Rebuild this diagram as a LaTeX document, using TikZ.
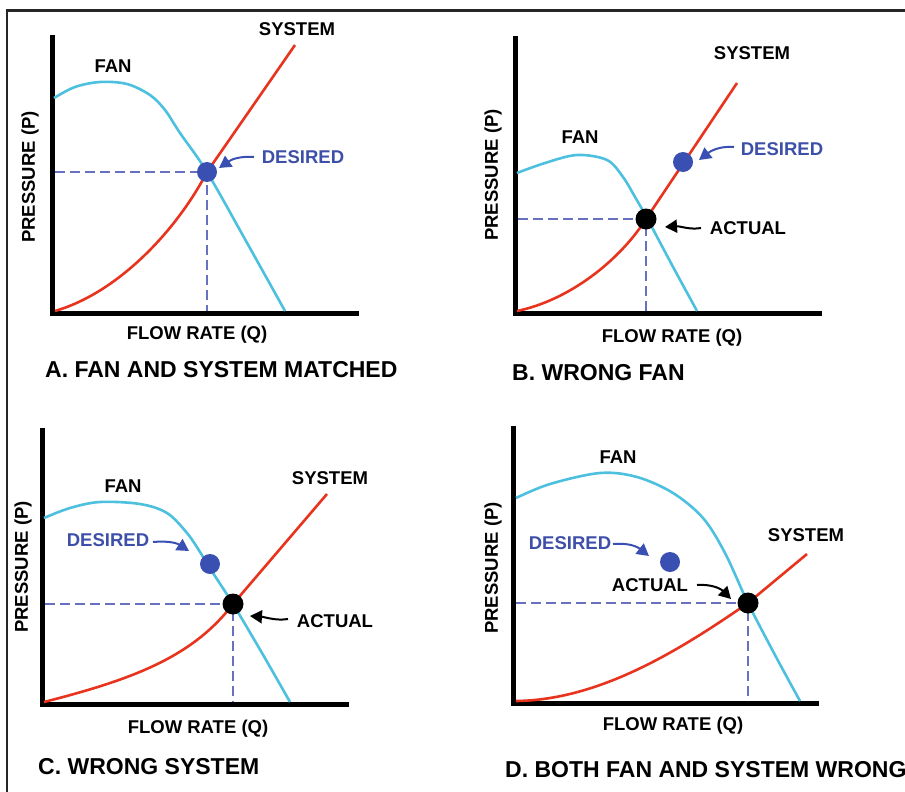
\documentclass[tikz,border=0pt]{standalone}
\usepackage{fontspec}
\setmainfont{Liberation Sans}
\usetikzlibrary{arrows.meta}
\definecolor{fanc}{HTML}{4CC0DE}
\definecolor{sysc}{HTML}{E8341E}
\definecolor{dotb}{HTML}{3A4FB2}
\definecolor{dashc}{HTML}{6870C0}
\definecolor{txtb}{HTML}{3D4FA8}
\begin{document}
\begin{tikzpicture}[x=1pt,y=-1pt,
  axis/.style={line width=5pt, line join=miter},
  fan/.style={fanc, line width=2.6pt},
  sys/.style={sysc, line width=2.6pt},
  guide/.style={dashc, line width=2pt, dash pattern=on 10pt off 5pt},
  lbl/.style={font=\fontsize{18.5}{22}\selectfont\bfseries, inner sep=0},
  blbl/.style={lbl, text=txtb},
  ylbl/.style={lbl, rotate=90},
  ttl/.style={font=\fontsize{23}{27}\selectfont\bfseries, inner sep=0, anchor=west},
  bdot/.style={circle, fill=dotb, minimum size=20pt, inner sep=0},
  kdot/.style={circle, fill=black, minimum size=21pt, inner sep=0},
  barr/.style={dotb, line width=2pt, -{Triangle[length=12pt,width=13pt]}},
  karr/.style={black, line width=2pt, -{Triangle[length=12pt,width=13pt]}},
  frame/.style={line width=2.5pt, black!85}
]
\useasboundingbox (0,0) rectangle (905,792);
% frame
\coordinate (fBL) at (7,800);
\coordinate (fTL) at (7,10.5);
\coordinate (fTR) at (910,10.5);
\draw[frame] (fBL) -- (fTL) -- (fTR);

% ================= Panel A =================
\coordinate (Atop) at (52,35); \coordinate (Aorg) at (52,313); \coordinate (Aend) at (359,313);
\draw[axis] (Atop) -- (Aorg) -- (Aend);
\coordinate (pA) at (207,172);
\draw[fan] plot[smooth, tension=0.55] coordinates {(54,98) (75,87) (100,82) (127,84) (150,95) (165,110) (180,133) (207,172) (246,241) (285,311)};
\coordinate (sA0) at (55,311); \coordinate (sA1) at (295,45);
\draw[sys] (sA0) .. controls (120,292) and (178,228) .. (pA) -- (sA1);
\coordinate (gA1) at (55,172); \coordinate (gA2) at (207,311);
\draw[guide] (gA1) -- (pA) -- (gA2);
\node[bdot] (dA) at (pA) {};
\node[lbl] (sysA) at (297,29) {SYSTEM};
\node[lbl] (fanA) at (113,66) {FAN};
\node[blbl] (desA) at (303,157) {DESIRED};
\node[ylbl] (prA) at (30,177) {PRESSURE (P)};
\node[lbl] (flA) at (197,335) {FLOW RATE (Q)};
\node[ttl] (tA) at (45,370) {A. FAN AND SYSTEM MATCHED};
\coordinate (aAs) at (254,157); \coordinate (aAt) at (219,168);
\draw[barr] (aAs) .. controls (241,156) and (232,159) .. (aAt);

% ================= Panel B =================
\coordinate (Btop) at (515,36); \coordinate (Borg) at (515,313); \coordinate (Bend) at (822,313);
\draw[axis] (Btop) -- (Borg) -- (Bend);
\coordinate (pBd) at (683,162); \coordinate (pBa) at (646,219);
\draw[fan] plot[smooth, tension=0.55] coordinates {(517,173) (545,163) (577,155) (607,160) (623,177) (635,197) (647,218) (672,265) (697,311)};
\coordinate (sB0) at (517,311); \coordinate (sB1) at (737,83);
\draw[sys] (sB0) .. controls (570,300) and (620,260) .. (pBa) -- (sB1);
\coordinate (gB1) at (518,219); \coordinate (gB2) at (646,311);
\draw[guide] (gB1) -- (pBa) -- (gB2);
\node[bdot] (dB) at (pBd) {};
\node[kdot] (kB) at (pBa) {};
\node[lbl] (sysB) at (752,53) {SYSTEM};
\node[lbl] (fanB) at (580,137) {FAN};
\node[blbl] (desB) at (782,149) {DESIRED};
\node[lbl] (actB) at (748,228) {ACTUAL};
\node[ylbl] (prB) at (493,175) {PRESSURE (P)};
\node[lbl] (flB) at (672,338) {FLOW RATE (Q)};
\node[ttl] (tB) at (512,373) {B. WRONG FAN};
\coordinate (aBs) at (734,147); \coordinate (aBt) at (699,160);
\draw[barr] (aBs) .. controls (721,146) and (712,150) .. (aBt);
\coordinate (aBs2) at (701,228); \coordinate (aBt2) at (665,227);
\draw[karr] (aBs2) .. controls (690,230) and (680,226) .. (aBt2);

% ================= Panel C =================
\coordinate (Ctop) at (42,428); \coordinate (Corg) at (42,704); \coordinate (Cend) at (349,704);
\draw[axis] (Ctop) -- (Corg) -- (Cend);
\coordinate (pCd) at (210,564); \coordinate (pCa) at (233,604);
\draw[fan] plot[smooth, tension=0.55] coordinates {(44,518) (70,508) (100,502) (140,504) (167,513) (187,533) (200,552) (213,573) (233,604) (262,653) (290,702)};
\coordinate (sC0) at (44,702); \coordinate (sC1) at (327,494);
\draw[sys] (sC0) .. controls (130,680) and (192,658) .. (pCa) -- (sC1);
\coordinate (gC1) at (45,604); \coordinate (gC2) at (233,702);
\draw[guide] (gC1) -- (pCa) -- (gC2);
\node[bdot] (dC) at (pCd) {};
\node[kdot] (kC) at (pCa) {};
\node[lbl] (sysC) at (330,478) {SYSTEM};
\node[lbl] (fanC) at (123,486) {FAN};
\node[blbl] (desC) at (108,540) {DESIRED};
\node[lbl] (actC) at (335,621) {ACTUAL};
\node[ylbl] (prC) at (23,567) {PRESSURE (P)};
\node[lbl] (flC) at (198,729) {FLOW RATE (Q)};
\node[ttl] (tC) at (38,767) {C. WRONG SYSTEM};
\coordinate (aCs) at (153,542); \coordinate (aCt) at (189,551);
\draw[barr] (aCs) .. controls (165,541) and (175,542) .. (aCt);
\coordinate (aCs2) at (288,619); \coordinate (aCt2) at (250,616);
\draw[karr] (aCs2) .. controls (276,621) and (265,617) .. (aCt2);

% ================= Panel D =================
\coordinate (Dtop) at (513,426); \coordinate (Dorg) at (513,703); \coordinate (Dend) at (819,703);
\draw[axis] (Dtop) -- (Dorg) -- (Dend);
\coordinate (pDd) at (670,562); \coordinate (pDa) at (748,603);
\draw[fan] plot[smooth, tension=0.55] coordinates {(516,498) (550,484) (600,473) (637,477) (673,493) (703,518) (725,553) (748,603) (775,655) (800,701)};
\coordinate (sD0) at (516,701); \coordinate (sD1) at (807,554);
\draw[sys] (sD0) .. controls (600,700) and (680,650) .. (pDa) -- (sD1);
\coordinate (gD1) at (516,603); \coordinate (gD2) at (748,701);
\draw[guide] (gD1) -- (pDa) -- (gD2);
\node[bdot] (dD) at (pDd) {};
\node[kdot] (kD) at (pDa) {};
\node[lbl] (sysD) at (806,535) {SYSTEM};
\node[lbl] (fanD) at (618,457) {FAN};
\node[blbl] (desD) at (570,543) {DESIRED};
\node[lbl] (actD) at (650,585) {ACTUAL};
\node[ylbl] (prD) at (493,568) {PRESSURE (P)};
\node[lbl] (flD) at (673,726) {FLOW RATE (Q)};
\node[ttl] (tD) at (505,770) {D. BOTH FAN AND SYSTEM WRONG};
\coordinate (aDs) at (613,544); \coordinate (aDt) at (649,556);
\draw[barr] (aDs) .. controls (625,543) and (635,545) .. (aDt);
\coordinate (aDs2) at (697,585); \coordinate (aDt2) at (731,599);
\draw[karr] (aDs2) .. controls (710,584) and (720,588) .. (aDt2);
\end{tikzpicture}
\end{document}
